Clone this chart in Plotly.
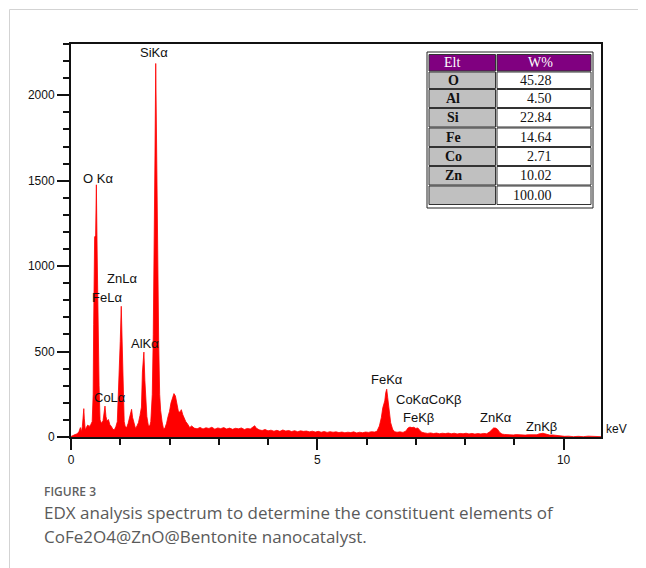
import plotly.graph_objects as go

# ---------------- data ----------------
energy_kev = [
    0.00, 0.04, 0.08, 0.12, 0.16, 0.19, 0.21, 0.23, 0.25, 0.26, 0.27, 0.29, 0.31, 0.34, 0.37, 0.40, 0.43,
    0.45, 0.46, 0.48, 0.50, 0.515, 0.53, 0.54, 0.555, 0.57, 0.59,
    0.62, 0.65, 0.67, 0.69, 0.71, 0.73, 0.76, 0.79, 0.82, 0.85, 0.88,
    0.91, 0.94, 0.96, 0.98, 1.00, 1.02, 1.04, 1.06, 1.08, 1.10,
    1.13, 1.16, 1.19, 1.21, 1.23, 1.25, 1.28, 1.31, 1.34,
    1.37, 1.40, 1.43, 1.45, 1.48, 1.50, 1.52, 1.54, 1.57, 1.60,
    1.62, 1.65, 1.67, 1.69, 1.705, 1.72, 1.74, 1.76, 1.78, 1.80, 1.82, 1.85, 1.88,
    1.91, 1.94, 1.97, 2.00, 2.03, 2.06, 2.09, 2.12, 2.15, 2.18, 2.21, 2.24, 2.27, 2.30, 2.33, 2.37, 2.41, 2.45,
    2.50, 2.56, 2.62, 2.68, 2.74, 2.80, 2.86, 2.92, 2.98, 3.04, 3.10, 3.16, 3.22, 3.28, 3.34, 3.40, 3.46,
    3.52, 3.58, 3.64, 3.70, 3.73, 3.76, 3.82, 3.88, 3.94, 4.00, 4.06, 4.12, 4.18, 4.24, 4.30, 4.36, 4.42,
    4.48, 4.54, 4.60, 4.66, 4.72, 4.78, 4.84, 4.90, 4.96, 5.02, 5.08, 5.14, 5.20, 5.26, 5.32, 5.38, 5.44,
    5.50, 5.56, 5.62, 5.68, 5.74, 5.80, 5.86, 5.92, 5.98, 6.04, 6.10, 6.16, 6.21,
    6.26, 6.30, 6.33, 6.37, 6.39, 6.41, 6.43, 6.46, 6.49, 6.53, 6.57, 6.62, 6.68, 6.74,
    6.80, 6.84, 6.88, 6.92, 6.96, 7.00, 7.04, 7.08, 7.12, 7.18, 7.24, 7.30, 7.36, 7.42, 7.48, 7.54, 7.60,
    7.66, 7.72, 7.78, 7.84, 7.90, 7.96, 8.02, 8.08, 8.14, 8.20, 8.26, 8.32, 8.38, 8.44,
    8.50, 8.54, 8.58, 8.62, 8.66, 8.70, 8.75, 8.80, 8.86, 8.92, 8.98, 9.04, 9.10, 9.16, 9.22, 9.28, 9.34,
    9.40, 9.46, 9.50, 9.54, 9.58, 9.62, 9.66, 9.72, 9.78, 9.84, 9.90, 9.96, 10.02, 10.10, 10.20, 10.30,
    10.40, 10.50, 10.60, 10.70, 10.76,
]
counts = [
    3, 10, 14, 18, 30, 55, 30, 60, 150, 166, 110, 40, 55, 70, 62, 72, 90,
    250, 660, 1170, 1180, 1476, 1100, 785, 770, 300, 100,
    80, 95, 140, 181, 120, 94, 102, 72, 62, 45, 42,
    60, 90, 300, 470, 560, 765, 520, 250, 90, 62,
    55, 80, 110, 130, 162, 115, 75, 50, 65,
    85, 125, 175, 380, 497, 330, 250, 120, 68, 65,
    90, 250, 600, 1638, 1650, 2186, 1500, 800, 560, 250, 155, 88, 45,
    55, 80, 120, 150, 200, 230, 254, 240, 190, 150, 145, 160, 130, 110, 90, 75, 55, 65,
    52, 48, 56, 47, 54, 50, 57, 46, 53, 49, 55, 47, 52, 45, 51, 48, 53,
    44, 50, 47, 58, 66, 52, 42, 38, 44, 36, 40, 34, 39, 33, 41, 35, 38,
    32, 37, 31, 36, 33, 35, 30, 34, 29, 33, 28, 32, 27, 31, 28, 30, 26,
    29, 25, 28, 26, 30, 24, 28, 25, 29, 27, 31, 29, 33,
    64, 113, 171, 211, 260, 280, 230, 152, 84, 45, 31, 28, 30, 27,
    35, 52, 58, 55, 57, 50, 53, 40, 28, 24, 21, 24, 20, 23, 19, 22, 20,
    23, 19, 22, 18, 21, 19, 22, 18, 21, 17, 20, 18, 21, 19,
    30, 45, 53, 52, 45, 28, 17, 15, 13, 15, 12, 14, 12, 13, 11, 13, 12,
    14, 13, 18, 21, 22, 19, 14, 11, 12, 9, 10, 6, 4, 5, 2, 4,
    2, 5, 3, 4, 2,
]

peak_labels = ["SiKα", "O Kα", "ZnLα", "FeLα", "AlKα", "CoLα",
               "FeKα", "CoKαCoKβ", "FeKβ", "ZnKα", "ZnKβ"]
peak_label_kev = [1.69, 0.54, 1.03, 0.725, 1.50, 0.79,
                  6.41, 7.27, 7.05, 8.63, 9.56]
peak_label_cps = [2251, 1514, 929, 819, 548, 229,
                  338, 221, 112, 112, 63]

x_ticks = [0, 5, 10]
y_ticks = [0, 500, 1000, 1500, 2000]

table_elements = ["O", "Al", "Si", "Fe", "Co", "Zn", ""]
table_weights = ["45.28", "4.50", "22.84", "14.64", "2.71", "10.02", "100.00"]
table_header = ["Elt", "W%"]

caption_label = "FIGURE 3"
caption_lines = ["EDX analysis spectrum to determine the constituent elements of",
                 "CoFe2O4@ZnO@Bentonite nanocatalyst."]

# ---------------- layout helpers (page pixel -> paper) ----------------
# the page body has an 8px margin, so the figure starts at page (8, 8)
OFF = 8
W, H = 646 - OFF, 568 - OFF
PL, PR, PT, PB = 71, 601, 44, 437          # plot area in page pixels
L, R, T, B = PL - OFF, 646 - PR, PT - OFF, 568 - PB
PW, PH = PR - PL, PB - PT


def px(x):
    return (x - PL) / PW


def py(y):
    return (PB - y) / PH


fig = go.Figure()
fig.add_trace(go.Scatter(
    x=energy_kev, y=counts, mode="lines",
    line=dict(color="#ff0000", width=0.8, shape="linear"),
    fill="tozeroy", fillcolor="#ff0000",
    hoverinfo="skip", showlegend=False,
))

annotations = []
for t, ex, cy in zip(peak_labels, peak_label_kev, peak_label_cps):
    annotations.append(dict(x=ex, y=cy, xref="x", yref="y", text=t, showarrow=False,
                            font=dict(family="Arial, Liberation Sans", size=13, color="#111"),
                            xanchor="center", yanchor="middle"))
annotations.append(dict(x=px(616.5), y=py(429), xref="paper", yref="paper", text="keV",
                        showarrow=False, font=dict(family="Arial, Liberation Sans", size=12, color="#111"),
                        xanchor="center", yanchor="middle"))

shapes = []
# card border lines
shapes.append(dict(type="line", xref="paper", yref="paper", x0=px(9.5), x1=px(646), y0=py(9.5), y1=py(9.5),
                   line=dict(color="#d3d3d3", width=1)))
shapes.append(dict(type="line", xref="paper", yref="paper", x0=px(9.5), x1=px(9.5), y0=py(9.5), y1=py(568),
                   line=dict(color="#d3d3d3", width=1)))

# table
shapes.append(dict(type="rect", xref="paper", yref="paper", x0=px(427), x1=px(593), y0=py(52), y1=py(208),
                   line=dict(color="#222", width=1), fillcolor="white", layer="above"))
row_edges = [54, 71.5, 89, 108, 127.5, 147, 166, 185.5, 205]
col1 = (429, 495.5)
col2 = (497, 591)
font_serif = "Liberation Serif, Times New Roman, serif"
for i in range(8):
    y0, y1 = row_edges[i] + 0.5, row_edges[i + 1] - 0.5
    if i == 0:
        f1, f2 = "#800080", "#800080"
    else:
        f1, f2 = "#c0c0c0", "#ffffff"
    shapes.append(dict(type="rect", xref="paper", yref="paper", x0=px(col1[0]), x1=px(col1[1]),
                       y0=py(y0), y1=py(y1), line=dict(color="#333", width=1), fillcolor=f1, layer="above"))
    shapes.append(dict(type="rect", xref="paper", yref="paper", x0=px(col2[0]), x1=px(col2[1]),
                       y0=py(y0), y1=py(y1), line=dict(color="#333", width=1), fillcolor=f2, layer="above"))
    yc = py((row_edges[i] + row_edges[i + 1]) / 2)
    if i == 0:
        annotations.append(dict(x=px(452), y=yc, xref="paper", yref="paper", text=table_header[0],
                                showarrow=False, font=dict(family=font_serif, size=14, color="white"),
                                xanchor="center", yanchor="middle"))
        annotations.append(dict(x=px(540), y=yc, xref="paper", yref="paper", text=table_header[1],
                                showarrow=False, font=dict(family=font_serif, size=14, color="white"),
                                xanchor="center", yanchor="middle"))
    else:
        el = table_elements[i - 1]
        if el:
            annotations.append(dict(x=px(453), y=yc, xref="paper", yref="paper", text="<b>" + el + "</b>",
                                    showarrow=False, font=dict(family=font_serif, size=14, color="#111"),
                                    xanchor="center", yanchor="middle"))
        annotations.append(dict(x=px(554), y=yc, xref="paper", yref="paper", text=table_weights[i - 1],
                                showarrow=False, font=dict(family=font_serif, size=14, color="#111"),
                                xanchor="right", yanchor="middle"))

# caption
annotations.append(dict(x=px(42), y=py(491), xref="paper", yref="paper", text=caption_label,
                        showarrow=False, font=dict(family="Open Sans", size=12, color="#5f5f5f", weight=600),
                        xanchor="left", yanchor="middle"))
for k, line in enumerate(caption_lines):
    annotations.append(dict(x=px(42), y=py(512 + 24 * k), xref="paper", yref="paper", text=line,
                            showarrow=False, font=dict(family="Open Sans", size=17, color="#5a5a5a"),
                            xanchor="left", yanchor="middle"))

fig.update_layout(
    width=W, height=H,
    margin=dict(l=L, r=R, t=T, b=B, pad=0),
    paper_bgcolor="white", plot_bgcolor="white",
    showlegend=False,
    annotations=annotations, shapes=shapes,
    xaxis=dict(range=[0, 10.76], tickmode="array", tickvals=x_ticks, ticktext=[str(v) for v in x_ticks],
               ticks="outside", ticklen=11, tickwidth=1.5, tickcolor="#111",
               minor=dict(dtick=1, ticks="outside", ticklen=6, tickwidth=1.5, tickcolor="#111"),
               showline=True, linecolor="#111", linewidth=1.5, mirror=True,
               showgrid=False, zeroline=False,
               tickfont=dict(family="Arial, Liberation Sans", size=12, color="#111")),
    yaxis=dict(range=[0, 2300], tickmode="array", tickvals=y_ticks, ticktext=[str(v) for v in y_ticks],
               ticks="outside", ticklen=12, tickwidth=1.5, tickcolor="#111",
               minor=dict(dtick=100, ticks="outside", ticklen=6, tickwidth=1.5, tickcolor="#111"),
               showline=True, linecolor="#111", linewidth=2, mirror=True,
               showgrid=False, zeroline=False,
               tickfont=dict(family="Arial, Liberation Sans", size=12, color="#111")),
)

fig.write_html("out.html")
